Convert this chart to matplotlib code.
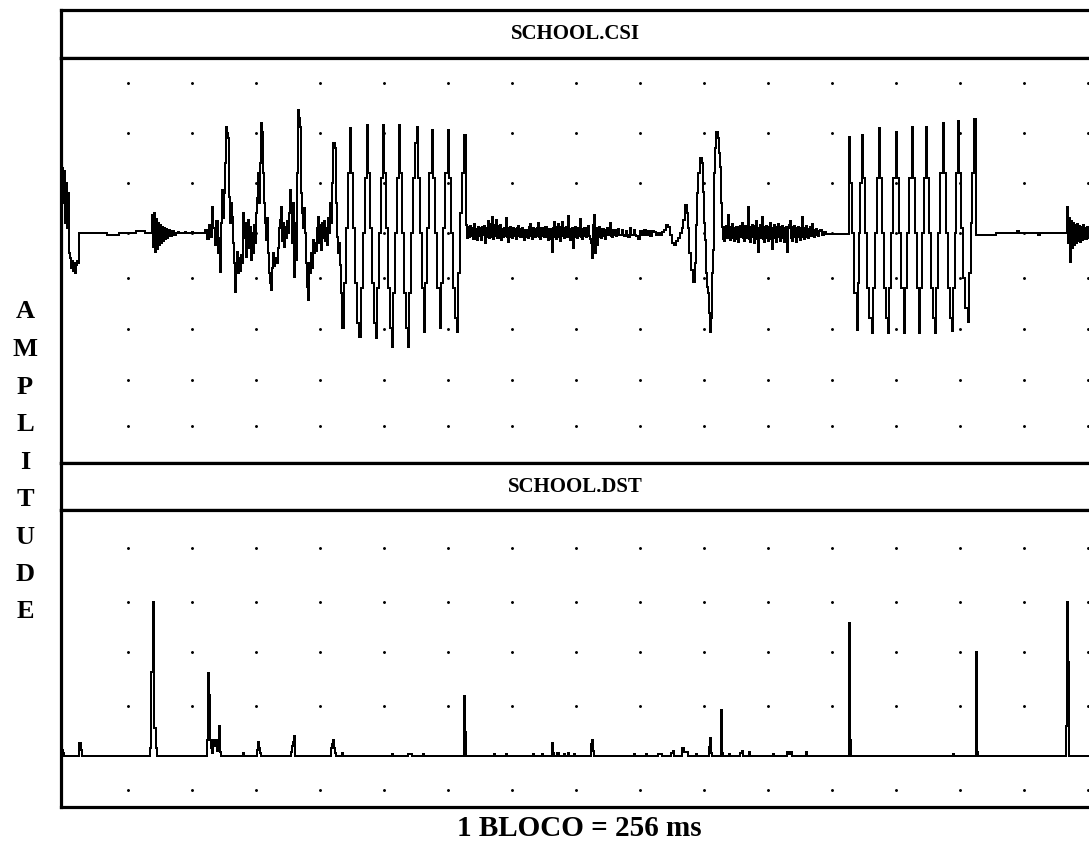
import numpy as np
import matplotlib.pyplot as plt

# SCHOOL.CSI - sinal (posicao em pixels da tela original, amplitude relativa ao eixo)
csi_inicio = [(61, 20), (62, 65), (63, 30), (64, 62), (65, 10), (66, 50), (67, 5), (68, 40),
              (69, -20), (70, -25), (71, -35), (72, -28), (73, -38), (74, -30), (75, -40),
              (76, -32), (77, -28), (78, -30), (79, 0), (106, 0), (107, -2), (118, -2),
              (119, 0), (135, 0), (136, 2), (144, 2), (145, 0), (151, 0),
              (152, 18), (153, -14), (154, 20), (155, -19), (156, 14), (157, -16), (158, 10),
              (159, -12), (160, 8), (161, -10), (162, 6), (163, -8), (164, 5), (165, -6),
              (166, 4), (167, -5), (168, 3), (170, -3), (172, 2), (174, -2), (176, 0),
              (178, 1), (179, 0), (185, 1), (186, 0), (192, 1), (193, 0), (204, 0)]

csi_silaba1 = [(205, 3), (207, -6), (209, 8), (211, -4), (212, 26), (213, 5), (215, -12),
               (216, 12), (218, -20), (219, -5), (220, -39), (221, 10), (222, 43), (223, 15),
               (224, 40), (225, 70), (226, 106), (227, 100), (228, 95), (229, 36), (230, 10),
               (231, 30), (232, 16), (233, -10), (234, -30), (235, -59), (236, -35), (237, -19),
               (238, -40), (239, -25), (240, -38), (241, -22), (242, -30), (243, 20), (244, -5),
               (245, 10), (246, -24), (247, 5), (248, 13), (249, -15), (250, 6), (251, -27),
               (252, 0), (253, -20), (254, 8), (255, -10), (256, 20), (257, 35), (258, 60),
               (259, 30), (260, 70), (261, 110), (262, 101), (263, 60), (264, 30), (265, 10),
               (266, -7), (267, 15), (268, -20), (269, -40), (270, -50), (271, -57), (272, -35),
               (273, -20), (274, -33), (275, -25), (276, -30), (278, -15), (279, 5), (280, 13),
               (281, 26), (282, -8), (283, 10), (284, -14), (285, 6), (286, -5), (287, 12),
               (288, 0), (289, 20), (290, 43), (291, 25), (292, -10), (293, 30), (294, -44),
               (295, 10), (296, -27), (297, 60), (298, 123), (299, 115), (300, 106), (301, 40),
               (302, 20), (303, 5), (304, 25), (305, 0), (306, -30), (307, -54), (308, -67),
               (309, -30), (310, -40), (311, -20), (312, -35), (313, -7), (314, -20), (315, -10),
               (316, -18), (317, 5), (318, 16), (319, -10), (320, 8), (321, -17), (322, 10),
               (323, -5), (324, 12), (325, -8), (326, 5), (327, -12), (328, 15), (329, 0),
               (330, 30), (331, 10), (332, 50), (333, 90), (335, 85), (336, 30), (337, -4),
               (338, -20), (339, -10), (340, -32), (341, -60)]

csi_silaba2 = [(342, -95), (344, -50), (346, 5), (348, 60), (350, 105),
               (351, 60), (353, 5), (355, -50), (357, -90), (359, -104),
               (361, -55), (363, 0), (365, 55), (367, 108),
               (368, 60), (370, 5), (372, -50), (374, -90), (376, -105),
               (377, -55), (379, 0), (381, 55), (383, 108),
               (384, 60), (386, 5), (388, -55), (390, -95), (392, -114),
               (393, -60), (395, 0), (397, 55), (399, 108),
               (400, 60), (402, 0), (404, -60), (406, -95), (408, -114),
               (409, -60), (411, 0), (413, 55), (415, 90), (417, 106),
               (418, 55), (420, 0), (422, -55), (424, -99),
               (425, -50), (427, 5), (429, 60), (432, 103),
               (433, 55), (435, 0), (437, -55), (440, -95),
               (441, -50), (443, 5), (445, 60), (448, 103),
               (449, 55), (451, 0), (453, -55), (455, -85), (457, -99),
               (458, -40), (460, 20), (462, 60), (464, 98)]

csi_ruido1 = [(466, 8), (467, -5), (468, 6), (469, -4), (470, 7), (471, -3), (472, 5), (473, -6),
              (474, 9), (475, -6), (476, 4), (477, -7), (478, 6), (479, -3), (480, 5),
              (481, -7), (482, 6), (483, -2), (484, 7), (485, -10), (486, 5), (487, -4),
              (488, 12), (489, -5), (490, 9), (491, -4), (492, 16), (493, -6), (494, 8),
              (495, -3), (496, 13), (497, -5), (498, 7), (499, -5), (500, 8), (501, -7),
              (502, 4), (503, -4), (504, 5), (505, -3), (506, 15), (507, -4), (508, -9),
              (509, 5), (510, 6), (511, -4), (512, -5), (513, 5), (514, 4), (515, -3),
              (516, -6), (517, 5), (518, 7), (519, -3), (520, -4), (521, 4), (522, 5),
              (523, -4), (524, -7), (525, 3), (526, 3), (527, -4), (528, -5), (529, 6),
              (530, 9), (531, -3), (532, -6), (533, 5), (534, 4), (535, -4), (536, -3),
              (537, 5), (538, 10), (539, -4), (540, -6), (541, 5), (542, 5), (543, -3),
              (544, -4), (545, 6), (546, 6), (547, -4), (548, -7), (549, 4), (550, 4),
              (551, -6), (552, -19), (553, 5), (554, 11), (555, -4), (556, -6), (557, 6),
              (558, 9), (559, -4), (560, -8), (561, 6), (562, 11), (563, -3), (564, -5),
              (565, 5), (566, 6), (567, -4), (568, 17), (569, -3), (570, -7), (571, 4),
              (572, 5), (573, -15), (574, 4), (575, 6), (576, -4), (577, -5), (578, 5),
              (579, -3), (580, 14), (581, -4), (582, -6), (583, 4), (584, 5), (585, -3),
              (586, -4), (587, 5), (588, 7), (589, -3), (590, -6), (591, -10), (592, -25),
              (593, 8), (594, 18), (595, -20), (596, 5), (597, -12), (598, -4), (599, 6),
              (600, -3), (601, -5), (602, 4), (603, 4), (604, -3), (605, -6), (606, 3),
              (607, 5), (608, -2), (609, 4), (610, 10), (611, -3), (612, -4), (613, 3),
              (614, 3), (615, -2), (616, -3), (617, 3), (618, 4), (619, -2), (620, -2),
              (622, 3), (623, -2), (624, -3), (626, 2), (627, -2), (628, -4), (630, 5),
              (631, -2), (632, -2), (634, 3), (635, -2), (636, -3), (638, -6), (640, 2),
              (642, -2), (644, 3), (646, -2), (648, 2), (650, -3), (652, 2), (654, 1),
              (656, -2), (658, 0), (660, -2)]

csi_silaba3 = [(662, 1), (664, 3), (666, 8), (668, 6), (670, -2), (672, -10), (674, -12),
               (676, -8), (678, -5), (680, 0), (682, 5), (683, 13), (685, 28), (687, 20),
               (688, 5), (689, -20), (691, -37), (693, -49), (695, -30), (696, 8), (697, 40),
               (698, 60), (700, 75), (702, 70), (703, 41), (704, 10), (705, -7), (706, -40),
               (707, -54), (708, -60), (709, -80), (710, -99), (711, -85), (712, -40),
               (713, -17), (714, 60), (715, 85), (716, 101), (718, 95), (719, 80), (720, 66),
               (721, 30)]

csi_ruido2 = [(722, 6), (723, -6), (724, -8), (725, 6), (726, 7), (727, -5), (728, 18),
              (729, -4), (730, -7), (731, 6), (732, 9), (733, -5), (734, -8), (735, 5),
              (736, 6), (737, -6), (738, -9), (739, 6), (740, 7), (741, -4), (742, 10),
              (743, -5), (744, -8), (745, 7), (746, 6), (747, -5), (748, 26), (749, -6),
              (750, -9), (751, 6), (752, 8), (753, -4), (754, -10), (755, 7), (756, 12),
              (757, -6), (758, -19), (759, 5), (760, 8), (761, -5), (762, 16), (763, -6),
              (764, -9), (765, 6), (766, 7), (767, -5), (768, -8), (769, 6), (770, 10),
              (771, -6), (772, -16), (773, 5), (774, 8), (775, -5), (776, -9), (777, 6),
              (778, 9), (779, -4), (780, -8), (781, 6), (782, 7), (783, -5), (784, -9),
              (785, 5), (786, 6), (787, -19), (788, 5), (789, 8), (790, 12), (791, -5),
              (792, -8), (793, 6), (794, 7), (795, -4), (796, -9), (797, 5), (798, 6),
              (799, -4), (800, -7), (801, 5), (802, 16), (803, -4), (804, -6), (805, 5),
              (806, 7), (807, -4), (808, -5), (809, 4), (810, 6), (811, -3), (812, 9),
              (813, -3), (814, -4), (815, 3), (816, 4), (817, -2), (818, -3), (819, 2),
              (820, 3), (822, -2), (824, 1), (826, -1), (848, -1)]

csi_silaba4 = [(849, 96), (850, 50), (852, 0), (854, -60), (857, -97),
               (858, -50), (859, 0), (860, 50), (862, 98),
               (863, 55), (865, 0), (867, -55), (869, -85), (872, -100),
               (873, -55), (875, 0), (877, 55), (879, 105),
               (880, 55), (882, 0), (884, -55), (886, -85), (888, -100),
               (889, -55), (891, 0), (893, 55), (896, 101),
               (897, 55), (899, 0), (901, -55), (904, -100),
               (905, -55), (907, 0), (909, 55), (912, 106),
               (913, 55), (915, 0), (917, -55), (919, -100),
               (920, -55), (922, 0), (924, 55), (926, 106),
               (927, 55), (929, 0), (931, -55), (933, -85), (935, -100),
               (936, -55), (938, 0), (940, 60), (943, 110),
               (944, 60), (946, 0), (948, -55), (950, -85), (952, -98),
               (953, -55), (955, 0), (956, 60), (958, 112),
               (959, 60), (961, 5), (963, -45), (965, -75), (968, -89),
               (969, -40), (971, 10), (972, 60), (974, 114)]

csi_final = [(976, -2), (995, -2), (996, 0), (1016, 0), (1017, 2), (1019, 0), (1037, 0),
             (1038, -2), (1040, 0), (1066, 0), (1067, 26), (1068, -10), (1069, 15),
             (1070, -29), (1071, 12), (1072, -15), (1073, 10), (1074, -12), (1075, 8),
             (1076, -10), (1077, 9), (1078, -8), (1079, 7), (1080, -9), (1081, 6),
             (1082, -7), (1083, 8), (1084, -6), (1085, 5), (1086, -6), (1087, 6),
             (1088, -5), (1089, 4), (1090, -4), (1092, 0)]

# SCHOOL.DST - picos sobre a linha de base
dst = [(61, 4), (62, 6), (63, 3), (64, 0), (78, 0), (79, 13), (81, 6), (82, 0),
       (149, 0), (150, 8), (151, 84), (153, 154), (154, 28), (156, 8), (157, 0),
       (206, 0), (207, 16), (208, 83), (209, 61), (210, 16), (211, 8), (212, 3), (213, 16),
       (214, 10), (216, 16), (217, 5), (218, 14), (219, 30), (220, 4), (221, 0),
       (242, 0), (243, 3), (244, 0), (256, 0), (257, 6), (258, 14), (259, 8), (260, 3),
       (261, 0), (290, 0), (291, 4), (292, 10), (293, 14), (294, 20), (295, 0),
       (330, 0), (331, 8), (332, 12), (333, 16), (334, 8), (335, 3), (336, 0), (341, 0),
       (342, 3), (343, 0), (391, 0), (392, 2), (393, 0), (407, 0), (408, 2), (412, 0),
       (422, 0), (423, 2), (424, 0), (463, 0), (464, 60), (465, 24), (466, 0),
       (493, 0), (494, 2), (495, 0), (505, 0), (506, 2), (507, 0), (532, 0), (533, 2),
       (534, 0), (541, 0), (542, 2), (543, 0), (551, 0), (552, 13), (553, 3), (554, 0),
       (557, 3), (559, 0), (564, 2), (565, 0), (568, 3), (569, 0), (574, 2), (575, 0),
       (590, 0), (591, 12), (592, 16), (593, 5), (594, 0), (634, 2), (635, 0), (646, 2),
       (647, 0), (658, 2), (662, 0), (671, 3), (673, 5), (674, 0), (682, 8), (684, 4),
       (688, 0), (696, 2), (697, 0), (708, 0), (709, 9), (710, 18), (711, 3), (712, 0),
       (720, 0), (721, 46), (722, 3), (723, 0), (729, 2), (730, 0), (740, 3), (742, 5),
       (743, 0), (749, 4), (750, 0), (773, 2), (774, 0), (787, 4), (789, 2), (791, 4),
       (792, 0), (806, 4), (807, 0), (848, 0), (849, 133), (850, 16), (851, 0),
       (952, 0), (953, 2), (954, 0), (975, 0), (976, 104), (977, 4), (978, 0),
       (1065, 0), (1066, 30), (1067, 154), (1068, 94), (1069, 0), (1093, 0)]

titulos = ['SCHOOL.CSI', 'SCHOOL.DST']
rotulo_y = 'AMPLITUDE'
rotulo_x = '1 BLOCO = 256 ms'

# linhas de pontos da grade
linhas_csi = [150, 100, 50, 0, -45, -96, -147, -193]
linhas_dst = [208, 154, 104, 50, -34]
colunas = np.arange(128, 1089, 64)

csi = np.array(csi_inicio + csi_silaba1 + csi_silaba2 + csi_ruido1 + csi_silaba3
               + csi_ruido2 + csi_silaba4 + csi_final)
dst = np.array(dst)

W, H = 1089, 850
fig = plt.figure(figsize=(W / 100, H / 100), dpi=100)
fig.patch.set_facecolor('white')
fonte = 'Liberation Serif'


def caixa(y0, y1):
    ax = fig.add_axes([61 / W, 1 - y1 / H, (1093 - 61) / W, (y1 - y0) / H])
    ax.set_xticks([])
    ax.set_yticks([])
    for s in ax.spines.values():
        s.set_linewidth(2.3)
        s.set_color('black')
    return ax


tit1 = caixa(10, 58)
ax1 = caixa(58, 463)
tit2 = caixa(463, 510)
ax2 = caixa(510, 807)

for tit, txt in zip([tit1, tit2], titulos):
    tit.text(0.5 - 2 / 1032, 0.5, txt, ha='center', va='center',
             fontsize=15, family=fonte, fontweight='bold', transform=tit.transAxes)

ax1.set_xlim(61, 1093)
ax1.set_ylim(-230, 175)
gx, gy = np.meshgrid(colunas, linhas_csi)
ax1.plot(gx.ravel(), gy.ravel(), 'k.', ms=2.2)
ax1.plot(csi[:, 0], csi[:, 1], color='black', lw=1.2, drawstyle='steps-post',
         antialiased=False)

ax2.set_xlim(61, 1093)
ax2.set_ylim(-51, 246)
gx, gy = np.meshgrid(colunas, linhas_dst)
ax2.plot(gx.ravel(), gy.ravel(), 'k.', ms=2.2)
ax2.plot(dst[:, 0], dst[:, 1], color='black', lw=1.2, drawstyle='steps-post',
         antialiased=False)

# rotulo vertical, uma letra por linha
for i, letra in enumerate(rotulo_y):
    fig.text(25 / W, 1 - (312 + 37.5 * i) / H, letra, ha='center', va='center',
             fontsize=19, family=fonte, fontweight='bold')

fig.text(579 / W, 1 - 828 / H, rotulo_x, ha='center', va='center',
         fontsize=21, family=fonte, fontweight='bold')

plt.savefig('out.png', dpi=100)
